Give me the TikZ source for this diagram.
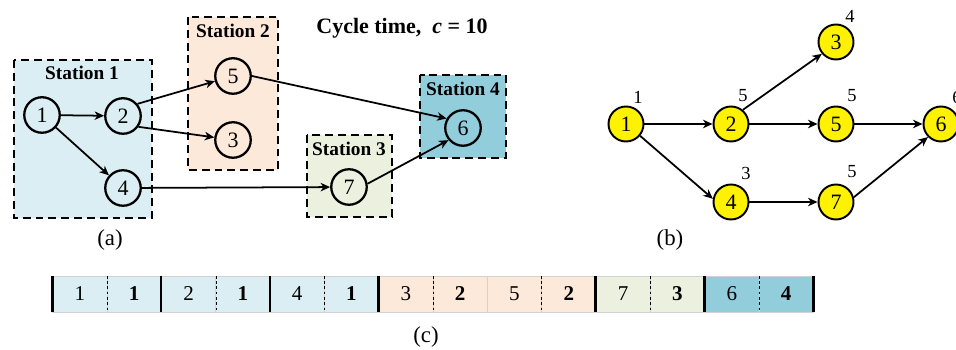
\documentclass[tikz,border=0pt]{standalone}
\usepackage{fontspec}
\setmainfont{Liberation Serif}
\usetikzlibrary{arrows.meta}

\definecolor{stOne}{HTML}{DAEEF3}
\definecolor{stTwo}{HTML}{FDE9D9}
\definecolor{stThree}{HTML}{EBF1DE}
\definecolor{stFour}{HTML}{92CDDC}
\newcommand{\fs}{\fontsize{11}{13}\selectfont}
\newcommand{\fd}{\fontsize{12.5}{15}\selectfont}

\tikzset{
  task/.style={circle,draw,line width=1.3pt,minimum size=0.71cm,inner sep=0pt,font=\fd},
  ytask/.style={task,fill=yellow,line width=1.1pt,minimum size=0.7cm},
  station/.style={draw,line width=1.6pt,dash pattern=on 4.5pt off 2.8pt},
  stname/.style={font=\fs\bfseries},
  dur/.style={font=\fontsize{10.5}{12}\selectfont},
  cell/.style={draw=gray!35,line width=0.3pt,minimum width=1.0866cm,minimum height=0.714cm,inner sep=0pt,font=\fontsize{12}{14}\selectfont},
  sub/.style={font=\fontsize{13}{15}\selectfont},
  edge/.style={-{Stealth[length=5.4pt,width=4.8pt,inset=1.6pt]},line width=1pt}
}

\begin{document}
\begin{tikzpicture}[x=0.02cm,y=-0.02cm]
\useasboundingbox (0,0) rectangle (956,350);

% (a) stations
\draw[station,fill=stOne] (14,60) rectangle (152,218);
\draw[station,fill=stTwo] (188,17) rectangle (278,170);
\draw[station,fill=stThree] (307,135) rectangle (392,217);
\draw[station,fill=stFour] (420,75) rectangle (506,158);
\node[stname] (S1) at (82,73) {Station 1};
\node[stname] (S2) at (233,31) {Station 2};
\node[stname] (S3) at (349,149) {Station 3};
\node[stname] (S4) at (463,89) {Station 4};
\node[font=\fd\bfseries] (C) at (402,28) {Cycle time,\ \ {\itshape c} = 10};

\node[task] (a1) at (42,115) {1};
\node[task] (a2) at (123,116) {2};
\node[task] (a4) at (123,188) {4};
\node[task] (a5) at (233,76) {5};
\node[task] (a3) at (233,140) {3};
\node[task] (a7) at (349,187) {7};
\node[task] (a6) at (463,128) {6};
\draw[edge] (a1) to (a2);
\draw[edge] (a1) to (a4);
\draw[edge] (a2.40) to (a5);
\draw[edge] (a2.-35) to (a3);
\draw[edge] (a4) to (a7);
\draw[edge] (a5.east) to (a6.150);
\draw[edge] (a7.10) to (a6.220);
\node[sub] (la) at (110,240) {(a)};

% (b) precedence graph with task times
\node[ytask] (b1) at (626,124) {1};
\node[ytask] (b2) at (731,124) {2};
\node[ytask] (b3) at (836,42) {3};
\node[ytask] (b5) at (836,124) {5};
\node[ytask] (b6) at (941,124) {6};
\node[ytask] (b4) at (731,202) {4};
\node[ytask] (b7) at (836,202) {7};
\node[dur] (w1) at (638,97) {1};
\node[dur] (w2) at (743,96) {5};
\node[dur] (w3) at (850,16) {4};
\node[dur] (w5) at (852,96) {5};
\node[dur] (w6) at (957,97) {6};
\node[dur] (w4) at (746,173) {3};
\node[dur] (w7) at (852,172) {5};
\draw[edge] (b1) to (b2);
\draw[edge] (b1.-40) to (b4.170);
\draw[edge] (b2.50) to (b3.220);
\draw[edge] (b2) to (b5);
\draw[edge] (b5) to (b6);
\draw[edge] (b4) to (b7);
\draw[edge] (b7.15) to (b6.225);
\node[sub] (lb) at (670,240) {(b)};

% (c) encoding: task / station pairs
\foreach \t/\s/\c [count=\i from 0] in {1/1/stOne, 2/1/stOne, 4/1/stOne, 3/2/stTwo, 5/2/stTwo, 7/3/stThree, 6/4/stFour} {
  \node[cell,fill=\c] (t\i) at ({52.7+54.33*(2*\i+0.5)},294) {\t};
  \node[cell,fill=\c,font=\fontsize{12}{14}\selectfont\bfseries] (s\i) at ({52.7+54.33*(2*\i+1.5)},294) {\s};
  \draw[line width=0.5pt,dash pattern=on 1.5pt off 1.5pt] (t\i.north east) -- (t\i.south east);
}
\foreach \i in {1,2}
  \draw[line width=1pt] (t\i.north west) -- (t\i.south west);
\foreach \i in {0,3,5,6}
  \draw[line width=1.8pt] (t\i.north west) -- (t\i.south west);
\draw[line width=1.8pt] (s6.north east) -- (s6.south east);
\node[sub] (lc) at (426,337) {(c)};
\end{tikzpicture}
\end{document}
